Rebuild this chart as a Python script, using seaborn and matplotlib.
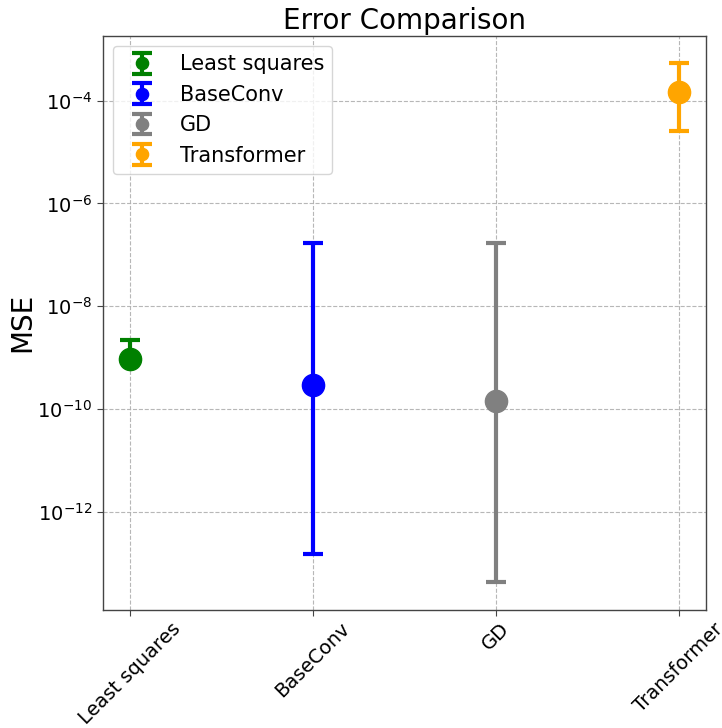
import numpy as np
import matplotlib
matplotlib.use("Agg")
import matplotlib.pyplot as plt
import seaborn as sns

methods = ["Least squares", "BaseConv", "GD", "Transformer"]
colors = ["green", "blue", "gray", "orange"]
mse_center = [9.3e-10, 2.9e-10, 1.45e-10, 1.5e-4]
mse_low = [9.3e-10, 1.5e-13, 4.4e-14, 2.6e-5]   # Least squares: lower bound not shown
mse_high = [2.2e-9, 1.67e-7, 1.67e-7, 5.5e-4]

sns.set_style("white")
plt.rcParams['font.family'] = ['DejaVu Sans']
plt.rcParams['text.color'] = 'black'
plt.rcParams['xtick.color'] = 'black'
plt.rcParams['ytick.color'] = 'black'
plt.rcParams['axes.labelcolor'] = 'black'

fig = plt.figure(figsize=(7.22, 7.28), dpi=100)
ax = fig.add_axes([0.142, 0.162, 0.836, 0.789])

for i, (m, c) in enumerate(zip(methods, colors)):
    lo = mse_center[i] - mse_low[i]
    hi = mse_high[i] - mse_center[i]
    ax.errorbar([m], [mse_center[i]], yerr=[[lo], [hi]], fmt='o', color=c,
                markersize=16, elinewidth=3, capsize=7, capthick=3, label=m)

ax.set_yscale('log')
ax.set_ylim(10**-13.91, 10**-2.735)
ax.set_xlim(-0.15, 3.15)
ax.minorticks_off()
ax.grid(True, which='major', linestyle='--', color='#b0b0b0', linewidth=0.8, alpha=0.9)
for s in ax.spines.values():
    s.set_color('#444444')
    s.set_linewidth(1.0)
ax.tick_params(axis='both', which='major', labelsize=14, length=4, color='#444444',
               left=True, bottom=True, labelcolor='black')
ax.tick_params(axis='x', pad=2.5)
plt.setp(ax.get_xticklabels(), rotation=45, ha='center')
ax.set_ylabel('MSE', fontsize=20, labelpad=1)
ax.set_title('Error Comparison', fontsize=20, pad=4.5)
ax.legend(fontsize=15, loc='upper left', framealpha=0.8, markerscale=0.55)

fig.savefig('out.png', dpi=100)
